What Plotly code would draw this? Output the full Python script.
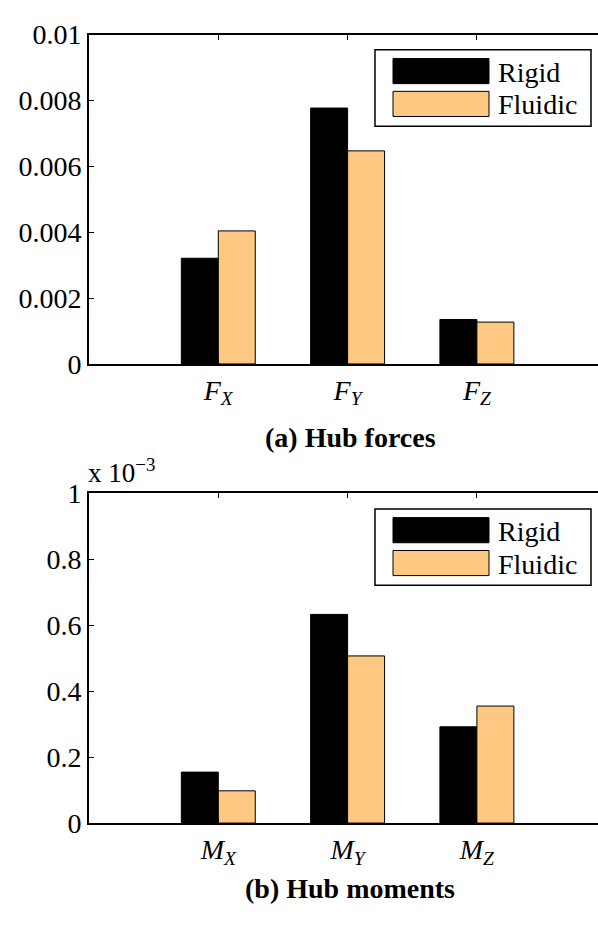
import plotly.graph_objects as go

W, H = 598, 927

series_names = ["Rigid", "Fluidic"]
series_colors = ["#000000", "#FFC882"]

force_cats = ["<i>F</i><sub><i>X</i></sub>", "<i>F</i><sub><i>Y</i></sub>", "<i>F</i><sub><i>Z</i></sub>"]
force_rigid = [0.00321, 0.00777, 0.00135]
force_fluidic = [0.00404, 0.00647, 0.00127]

moment_cats = ["<i>M</i><sub><i>X</i></sub>", "<i>M</i><sub><i>Y</i></sub>", "<i>M</i><sub><i>Z</i></sub>"]
moment_rigid = [0.1545, 0.633, 0.292]   # x 10^-3
moment_fluidic = [0.0978, 0.507, 0.355]  # x 10^-3

force_ticks = [0, 0.002, 0.004, 0.006, 0.008, 0.01]
force_ticklabels = ["0", "0.002", "0.004", "0.006", "0.008", "0.01"]
moment_ticks = [0, 0.2, 0.4, 0.6, 0.8, 1]
moment_ticklabels = ["0", "0.2", "0.4", "0.6", "0.8", "1"]

FONT = "Liberation Serif, Times New Roman, serif"
FS = 28

def px(x):
    return x / W

def py(y):
    return 1 - y / H

fig = go.Figure()
pos = [1, 2, 3]

for vals, ax in [((force_rigid, force_fluidic), ("x", "y")), ((moment_rigid, moment_fluidic), ("x2", "y2"))]:
    for name, color, v in zip(series_names, series_colors, vals):
        fig.add_trace(go.Bar(
            x=pos, y=v, name=name, marker=dict(color=color, line=dict(color="#000000", width=1)),
            xaxis=ax[0], yaxis=ax[1], showlegend=False,
        ))

xdom = [px(89), 1]
xr = [0, (W - 89) / 129.3]
common_x = dict(range=xr, domain=xdom, tickmode="array", tickvals=pos, showline=True, linecolor="black",
                linewidth=2, mirror="ticks", ticks="inside", ticklen=5, tickwidth=1, tickcolor="black",
                showgrid=False, zeroline=False, tickfont=dict(family=FONT, size=FS, color="black"),
                fixedrange=True)
common_y = dict(showline=True, linecolor="black", linewidth=2, ticks="inside", ticklen=5, tickwidth=1,
                tickcolor="black", showgrid=False, zeroline=False, tickmode="array",
                tickfont=dict(family=FONT, size=FS, color="black"), fixedrange=True)

fig.update_layout(
    width=W, height=H, margin=dict(l=0, r=0, t=0, b=0), paper_bgcolor="white", plot_bgcolor="white",
    barmode="group", bargap=0.428, bargroupgap=0, showlegend=False,
    font=dict(family=FONT, color="black", size=FS),
    xaxis=dict(common_x, anchor="y", ticktext=force_cats),
    yaxis=dict(common_y, anchor="x", domain=[py(361), py(20.3)], range=[0, 0.01],
               tickvals=force_ticks, ticktext=force_ticklabels),
    xaxis2=dict(common_x, anchor="y2", ticktext=moment_cats),
    yaxis2=dict(common_y, anchor="x2", domain=[py(836), py(495)], range=[0, 1],
                tickvals=moment_ticks, ticktext=moment_ticklabels),
)

shapes = []
annotations = []

# Custom legends (one per panel)
for top in [36, 511]:
    shapes.append(dict(type="rect", xref="paper", yref="paper", x0=px(375), x1=px(591),
                       y0=py(top + 79), y1=py(top), line=dict(color="black", width=1.5), fillcolor="white",
                       layer="above"))
    for i, (name, color) in enumerate(zip(series_names, series_colors)):
        y0 = top + 9 + i * 34
        shapes.append(dict(type="rect", xref="paper", yref="paper", x0=px(393), x1=px(489),
                           y0=py(y0 + 26), y1=py(y0), line=dict(color="black", width=1),
                           fillcolor=color, layer="above"))
        annotations.append(dict(text=name, xref="paper", yref="paper", x=px(496), y=py(y0 + 14),
                                xanchor="left", yanchor="middle", showarrow=False,
                                font=dict(family=FONT, size=FS, color="black")))

annotations.append(dict(text="<b>(a) Hub forces</b>", xref="paper", yref="paper", x=px(350), y=py(437),
                        xanchor="center", yanchor="middle", showarrow=False,
                        font=dict(family=FONT, size=FS, color="black")))
annotations.append(dict(text="<b>(b) Hub moments</b>", xref="paper", yref="paper", x=px(350), y=py(904),
                        xanchor="center", yanchor="middle", showarrow=False,
                        font=dict(family=FONT, size=FS, color="black")))
annotations.append(dict(text="x 10<sup>\u22123</sup>", xref="paper", yref="paper", x=px(86), y=py(472),
                        xanchor="left", yanchor="middle", showarrow=False,
                        font=dict(family=FONT, size=27, color="black")))

fig.update_layout(shapes=shapes, annotations=annotations)
fig.write_html("out.html")
